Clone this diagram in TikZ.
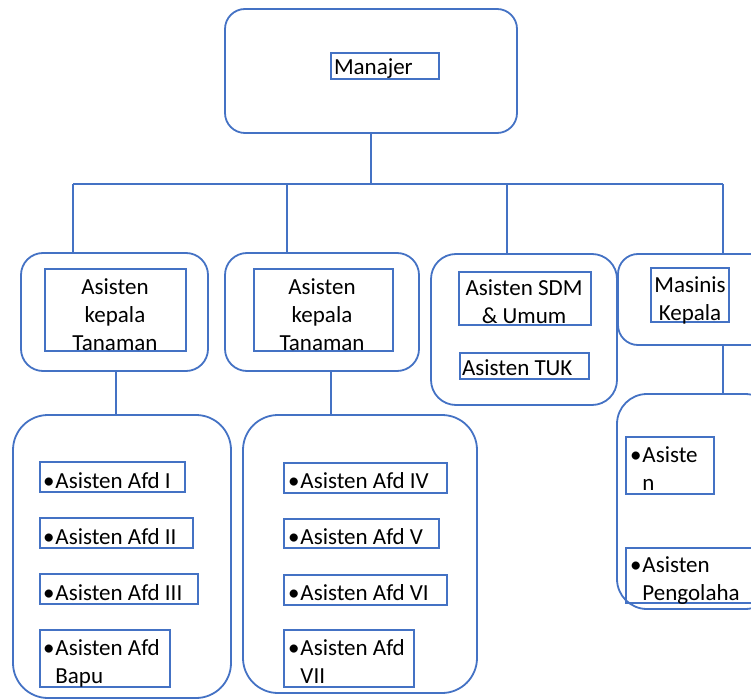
\documentclass[tikz,border=0pt]{standalone}
\usepackage{fontspec}
\setmainfont{Carlito}
\definecolor{ln}{HTML}{4472C4}
\begin{document}
\begin{tikzpicture}[x=1pt,y=-1pt,
  outerbox/.style={draw=ln,line width=1.8pt,rounded corners=#1,inner sep=0,outer sep=0},
  outerbox/.default=20pt,
  innerbox/.style={draw=ln,line width=1.8pt,inner sep=0,outer sep=0},
  conn/.style={draw=ln,line width=1.8pt},
  txt/.style={font=\fontsize{23}{28}\selectfont,inner sep=0,outer sep=0,text=black}]
\useasboundingbox (0,0) rectangle (751,700);
\clip (0,0) rectangle (751,700);
% outer boxes
\node[outerbox=20pt,minimum width=292pt,minimum height=124pt] (mgr) at (371,71) {};
\node[outerbox=22pt,minimum width=187pt,minimum height=118pt] (b1) at (114.5,312) {};
\node[outerbox=22pt,minimum width=194pt,minimum height=118pt] (b2) at (322,312) {};
\node[outerbox=25pt,minimum width=186pt,minimum height=151pt] (b3) at (524,329.5) {};
\node[outerbox=20pt,minimum width=152pt,minimum height=91pt] (b4) at (694,299.5) {};
\node[outerbox=35pt,minimum width=218pt,minimum height=283pt] (b5) at (122,556.5) {};
\node[outerbox=35pt,minimum width=234pt,minimum height=278pt] (b6) at (360,554) {};
\node[outerbox=30pt,minimum width=158pt,minimum height=215pt] (b7) at (696,501.5) {};
% inner boxes
\node[innerbox,minimum width=108pt,minimum height=26pt] (mgrin) at (385,66) {};
\node[innerbox,minimum width=141pt,minimum height=82pt] (b1in) at (115.5,310) {};
\node[innerbox,minimum width=139pt,minimum height=82pt] (b2in) at (323.5,310) {};
\node[innerbox,minimum width=132pt,minimum height=53pt] (b3a) at (525,298.5) {};
\node[innerbox,minimum width=129pt,minimum height=26pt] (b3b) at (524.5,366) {};
\node[innerbox,minimum width=78pt,minimum height=54pt] (b4in) at (690,295) {};
\node[innerbox,minimum width=145pt,minimum height=30pt] (a1) at (112.5,477) {};
\node[innerbox,minimum width=153pt,minimum height=30pt] (a2) at (116.5,533) {};
\node[innerbox,minimum width=158pt,minimum height=30pt] (a3) at (119,589) {};
\node[innerbox,minimum width=130pt,minimum height=57pt] (a4) at (105,658.5) {};
\node[innerbox,minimum width=163pt,minimum height=30pt] (a5) at (365.5,478) {};
\node[innerbox,minimum width=155pt,minimum height=29pt] (a6) at (361.5,533.5) {};
\node[innerbox,minimum width=163pt,minimum height=30pt] (a7) at (365.5,590) {};
\node[innerbox,minimum width=130pt,minimum height=57pt] (a8) at (349,658.5) {};
\node[innerbox,minimum width=88pt,minimum height=57pt] (b7a) at (670,465.5) {};
\node[innerbox,minimum width=144pt,minimum height=55pt] (b7b) at (698,575.5) {};
% texts (base anchor = baseline of last line)
\node[txt,anchor=base west] (t0) at (334,75) {Manajer};
\node[txt,anchor=base,align=center] (t1) at (115,350) {Asisten\\kepala\\Tanaman};
\node[txt,anchor=base,align=center] (t2) at (322,350) {Asisten\\kepala\\Tanaman};
\node[txt,anchor=base,align=center] (t3a) at (524,323) {Asisten SDM\\\& Umum};
\node[txt,anchor=base west] (t3b) at (462,375) {Asisten TUK};
\node[txt,anchor=base,align=center] (t4) at (690,320) {Masinis\\Kepala};
\node[txt,anchor=base west,align=left] (ta1) at (43,488) {•\hspace{1pt}Asisten Afd I};
\node[txt,anchor=base west,align=left] (ta2) at (43,544) {•\hspace{1pt}Asisten Afd II};
\node[txt,anchor=base west,align=left] (ta3) at (43,600) {•\hspace{1pt}Asisten Afd III};
\node[txt,anchor=base west,align=left] (ta4) at (43,683) {•\hspace{1pt}Asisten Afd\\\hphantom{•}\hspace{1pt}Bapu};
\node[txt,anchor=base west,align=left] (ta5) at (288,488) {•\hspace{1pt}Asisten Afd IV};
\node[txt,anchor=base west,align=left] (ta6) at (288,544) {•\hspace{1pt}Asisten Afd V};
\node[txt,anchor=base west,align=left] (ta7) at (288,600) {•\hspace{1pt}Asisten Afd VI};
\node[txt,anchor=base west,align=left] (ta8) at (288,683) {•\hspace{1pt}Asisten Afd\\\hphantom{•}\hspace{1pt}VII};
\node[txt,anchor=base west,align=left] (t7a) at (630,490) {•\hspace{1pt}Asiste\\\hphantom{•}\hspace{1pt}n};
\node[txt,anchor=base west,align=left] (t7b) at (630,600) {•\hspace{1pt}Asisten\\\hphantom{•}\hspace{1pt}Pengolaha};
% connectors
\coordinate (busL) at (73,184);
\coordinate (busM) at (371,184);
\coordinate (d2) at (287,184);
\coordinate (d3) at (507,184);
\coordinate (busR) at (723,184);
\draw[conn] (mgr.south) -- (busM);
\draw[conn] (busL) -- (busR);
\draw[conn] (busL) -- (busL |- b1.north);
\draw[conn] (d2) -- (d2 |- b2.north);
\draw[conn] (d3) -- (d3 |- b3.north);
\draw[conn] (busR) -- (busR |- b4.north);
\draw[conn] ([xshift=1.5pt]b1.south) -- ([xshift=1.5pt]b1.south |- b5.north);
\draw[conn] ([xshift=9pt]b2.south) -- ([xshift=9pt]b2.south |- b6.north);
\draw[conn] (busR |- b4.south) -- (busR |- b7.north);
\end{tikzpicture}
\end{document}
